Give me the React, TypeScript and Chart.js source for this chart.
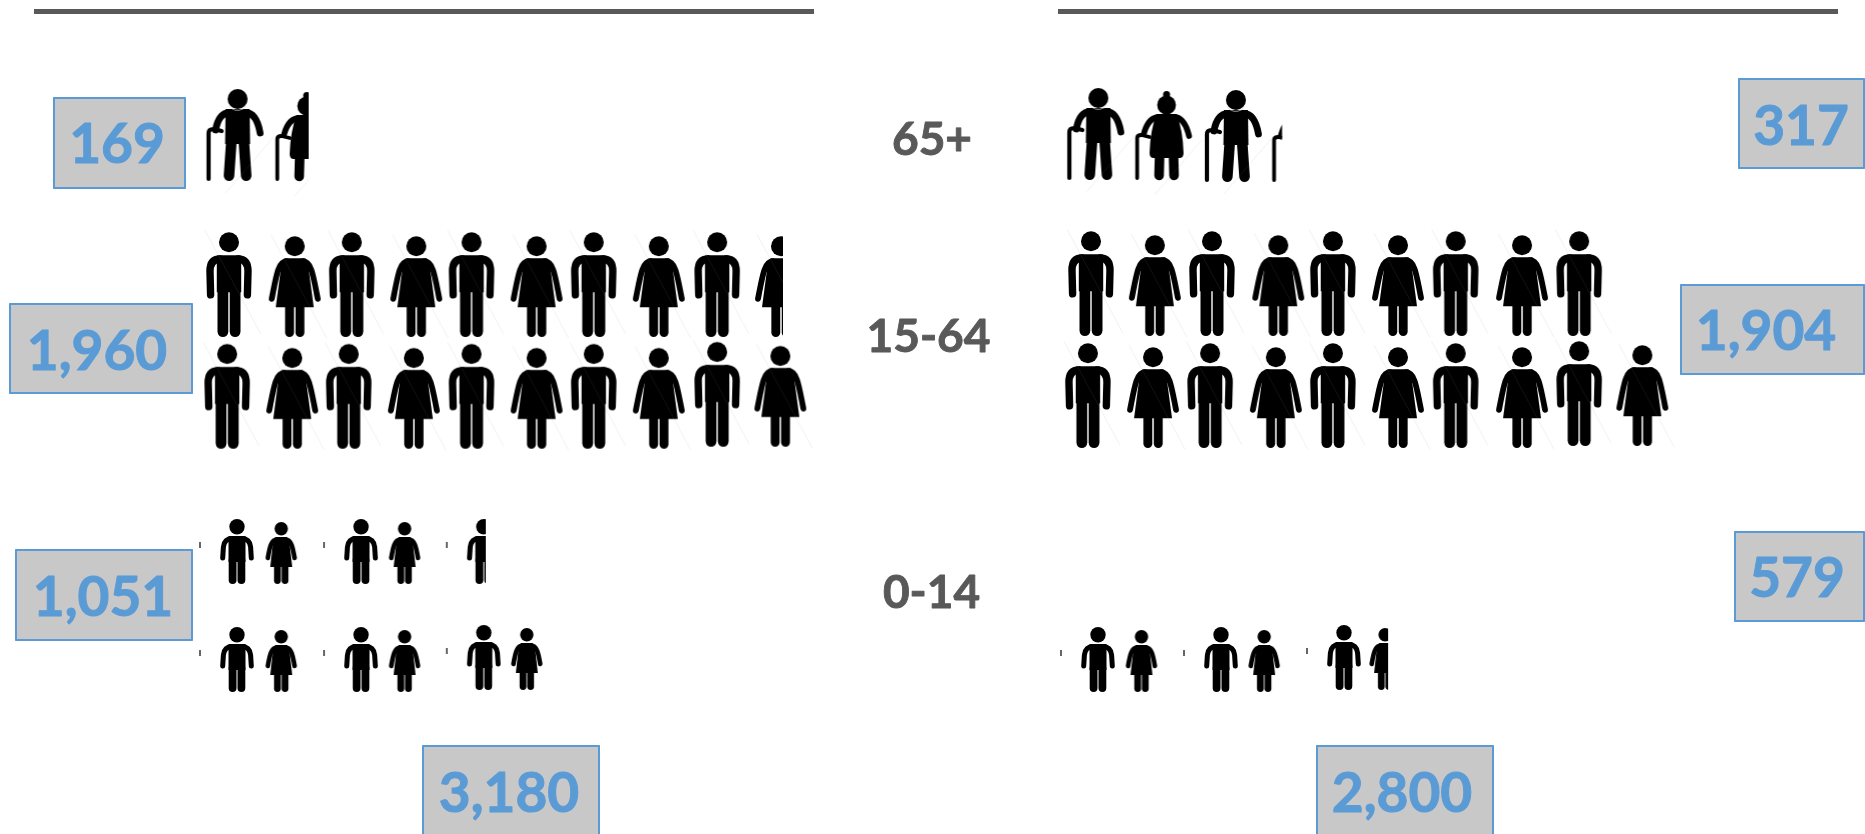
import React, { useEffect, useRef } from "react";
import { Chart, registerables } from "chart.js";

Chart.register(...registerables);

const WIDTH = 1865;
const HEIGHT = 834;

// ---- values ----
const ageGroups = ["65+", "15-64", "0-14"];
const leftValues = [169, 1960, 1051];
const leftTotal = 3180;
const rightValues = [317, 1904, 579];
const rightTotal = 2800;

// ---- pictogram rows: slot along the row (one slot = one icon), feet level on the y axis ----
const elderLeftKinds = ["E", "W"];
const elderLeftSlots = [0.14, 1.265];
const elderLeftFeet = [1.81, 1.81];
const elderLeftShown = [1, 0.58];

const elderRightKinds = ["E", "W", "E", "W"];
const elderRightSlots = [0.12, 1.23, 2.36, 3.46];
const elderRightFeet = [1.8, 1.8, 1.82, 1.82];
const elderRightShown = [1, 1, 1, 0.156];

const adultLeftKinds1 = ["M", "F", "M", "F", "M", "F", "M", "F", "M", "F"];
const adultLeftSlots1 = [0, 1.07, 2.0, 3.05, 3.95, 5.01, 5.94, 7.0, 7.95, 8.99];
const adultLeftFeet1 = [3.37, 3.37, 3.37, 3.37, 3.37, 3.37, 3.37, 3.37, 3.37, 3.37];
const adultLeftShown1 = [1, 1, 1, 1, 1, 1, 1, 1, 1, 0.54];

const adultLeftKinds2 = ["M", "F", "M", "F", "M", "F", "M", "F", "M", "F"];
const adultLeftSlots2 = [-0.03, 1.03, 1.95, 3.01, 3.95, 5.01, 5.94, 7.0, 7.95, 8.98];
const adultLeftFeet2 = [4.487, 4.487, 4.487, 4.487, 4.487, 4.487, 4.487, 4.487, 4.467, 4.467];
const adultLeftShown2 = [1, 1, 1, 1, 1, 1, 1, 1, 1, 1];

const adultRightKinds1 = ["M", "F", "M", "F", "M", "F", "M", "F", "M"];
const adultRightSlots1 = [0, 1.04, 1.97, 3.05, 3.94, 5.0, 5.94, 7.02, 7.95];
const adultRightFeet1 = [3.36, 3.36, 3.36, 3.36, 3.36, 3.36, 3.36, 3.36, 3.36];
const adultRightShown1 = [1, 1, 1, 1, 1, 1, 1, 1, 1];

const adultRightKinds2 = ["M", "F", "M", "F", "M", "F", "M", "F", "M", "F"];
const adultRightSlots2 = [-0.05, 1.01, 1.94, 3.01, 3.94, 5.0, 5.94, 7.02, 7.95, 8.98];
const adultRightFeet2 = [4.48, 4.48, 4.48, 4.48, 4.48, 4.48, 4.48, 4.48, 4.46, 4.46];
const adultRightShown2 = [1, 1, 1, 1, 1, 1, 1, 1, 1, 1];

const childLeftKinds1 = ["B", "G", "B", "G", "B"];
const childLeftSlots1 = [0.13, 0.85, 2.15, 2.86, 4.15];
const childLeftFeet1 = [5.84, 5.84, 5.84, 5.84, 5.84];
const childLeftShown1 = [1, 1, 1, 1, 0.56];

const childLeftKinds2 = ["B", "G", "B", "G", "B", "G"];
const childLeftSlots2 = [0.13, 0.85, 2.15, 2.86, 4.15, 4.85];
const childLeftFeet2 = [6.92, 6.92, 6.92, 6.92, 6.9, 6.9];
const childLeftShown2 = [1, 1, 1, 1, 1, 1];

const childRightKinds = ["B", "G", "B", "G", "B", "G"];
const childRightSlots = [0.114, 0.822, 2.117, 2.82, 4.12, 4.79];
const childRightFeet = [6.92, 6.92, 6.92, 6.92, 6.9, 6.9];
const childRightShown = [1, 1, 1, 1, 1, 0.59];

// ---- page layout (not data) ----
const SLOT_PX = 61.4;
const LEFT_ORIGIN = 229;
const RIGHT_ORIGIN = 1091;
const ROW_PX = 100;
const BLUE = "#5B9BD5";
const GREY_TEXT = "#595959";
const BOX_FILL = "#C8C8C8";
const VALUE_FONT = 'bold 55px Lato, "Open Sans", sans-serif';
const AGE_FONT = 'bold 46px Lato, "Open Sans", sans-serif';

type Box = { text: string; l: number; t: number; r: number; b: number; cx: number; base: number };
const fmt = (n: number) => n.toLocaleString("en-US");
const boxes: Box[] = [
  { text: fmt(leftValues[0]), l: 53, t: 97, r: 186, b: 189, cx: 117, base: 163 },
  { text: fmt(leftValues[1]), l: 9, t: 303, r: 193, b: 394, cx: 97, base: 370 },
  { text: fmt(leftValues[2]), l: 15, t: 549, r: 193, b: 641, cx: 103, base: 616 },
  { text: fmt(leftTotal), l: 422, t: 745, r: 600, b: 860, cx: 509, base: 812 },
  { text: fmt(rightValues[0]), l: 1738, t: 78, r: 1865, b: 169, cx: 1801, base: 145 },
  { text: fmt(rightValues[1]), l: 1680, t: 284, r: 1865, b: 375, cx: 1766, base: 350 },
  { text: fmt(rightValues[2]), l: 1734, t: 531, r: 1865, b: 622, cx: 1797, base: 597 },
  { text: fmt(rightTotal), l: 1316, t: 745, r: 1494, b: 860, cx: 1402, base: 812 },
];
const agePlacement = [
  { cx: 932, base: 154.5 },
  { cx: 928.5, base: 352 },
  { cx: 931.5, base: 608 },
];
const topRules = [
  { l: 34, r: 814 },
  { l: 1058, r: 1838 },
];

// ---- icons: every canvas has head centre-line and feet at its middle ----
const HEIGHTS: Record<string, number> = { M: 104.7, F: 100.7, E: 92, W: 89, B: 65, G: 62 };
const BBOX: Record<string, [number, number]> = {
  M: [-23, 23],
  F: [-26, 26],
  E: [-30, 25],
  W: [-30, 25],
  B: [-17, 17],
  G: [-16, 16],
};

function both(c: CanvasRenderingContext2D, fn: (s: number) => void) {
  fn(-1);
  fn(1);
}
function dot(c: CanvasRenderingContext2D, x: number, y: number, r: number) {
  c.beginPath();
  c.arc(x, y, r, 0, Math.PI * 2);
  c.fill();
}
function seg(c: CanvasRenderingContext2D, w: number, pts: number[]) {
  c.lineWidth = w;
  c.beginPath();
  c.moveTo(pts[0], pts[1]);
  c.lineTo(pts[2], pts[3]);
  c.stroke();
}
function poly(c: CanvasRenderingContext2D, pts: number[]) {
  c.beginPath();
  c.moveTo(pts[0], pts[1]);
  for (let i = 2; i < pts.length; i += 2) c.lineTo(pts[i], pts[i + 1]);
  c.closePath();
  c.fill();
}

function drawFigure(c: CanvasRenderingContext2D, kind: string) {
  if (kind === "M") {
    dot(c, 0, 10, 10);
    poly(c, [-11.5, 23, 11.5, 23, 12.2, 30, 12.2, 60, -12.2, 60, -12.2, 30]);
    both(c, (s) => {
      c.lineWidth = 7.4;
      c.beginPath();
      c.moveTo(s * 9, 26.7);
      c.bezierCurveTo(s * 15, 26.7, s * 19, 30, s * 19, 39);
      c.lineTo(s * 18.4, 62.5);
      c.stroke();
      seg(c, 10.8, [s * 6.1, 58, s * 6.1, 99.3]);
    });
  } else if (kind === "F") {
    dot(c, 0, 10, 10);
    poly(c, [-10.5, 22, 10.5, 22, 13.5, 30, 19, 71, -19, 71, -13.5, 30]);
    both(c, (s) => {
      c.lineWidth = 5.8;
      c.beginPath();
      c.moveTo(s * 8, 24.9);
      c.bezierCurveTo(s * 16, 24.9, s * 18, 36, s * 23, 62.5);
      c.stroke();
      seg(c, 8.9, [s * 5.2, 70, s * 5.2, 96.2]);
    });
  } else if (kind === "E") {
    dot(c, 0, 10, 10);
    poly(c, [-12, 20, 12, 20, 12.5, 55, -12.5, 55]);
    // legs splay slightly toward the feet
    seg(c, 10.6, [-6.2, 52, -8.6, 86.7]);
    seg(c, 10.6, [6.2, 52, 8.6, 86.7]);
    // arms: the left one ends on the cane
    c.lineWidth = 6.8;
    c.beginPath();
    c.moveTo(-8, 23.5);
    c.quadraticCurveTo(-19, 24, -22, 41);
    c.stroke();
    c.beginPath();
    c.moveTo(8, 23.5);
    c.quadraticCurveTo(19, 24, 22.5, 44);
    c.stroke();
    // cane
    c.lineWidth = 4.2;
    c.beginPath();
    c.moveTo(-29, 90);
    c.lineTo(-29, 44);
    c.quadraticCurveTo(-29, 40, -24, 40);
    c.lineTo(-16, 42);
    c.stroke();
    c.strokeStyle = "rgba(215,215,215,0.9)";
    c.lineWidth = 0.8;
    c.beginPath();
    c.arc(0, 11, 10.5, 0.2 * Math.PI, 0.8 * Math.PI);
    c.stroke();
    c.strokeStyle = "#000";
  } else if (kind === "W") {
    dot(c, 0, 3.5, 3.5);
    dot(c, 0, 14, 9.4);
    c.beginPath();
    c.moveTo(-10, 23);
    c.lineTo(10, 23);
    c.quadraticCurveTo(16.5, 40, 17, 62);
    c.quadraticCurveTo(17, 67, 13, 67);
    c.lineTo(-13, 67);
    c.quadraticCurveTo(-17, 67, -17, 62);
    c.quadraticCurveTo(-16.5, 40, -10, 23);
    c.fill();
    seg(c, 9.6, [-7, 66, -7.5, 84.5]);
    seg(c, 9.6, [7, 66, 7.5, 84.5]);
    c.lineWidth = 5.8;
    c.beginPath();
    c.moveTo(-7, 26);
    c.quadraticCurveTo(-18, 26, -22.5, 42);
    c.stroke();
    c.beginPath();
    c.moveTo(7, 26);
    c.quadraticCurveTo(18, 26, 22.5, 45);
    c.stroke();
    c.lineWidth = 3.8;
    c.beginPath();
    c.moveTo(-29.4, 87);
    c.lineTo(-29.4, 47);
    c.quadraticCurveTo(-29.4, 44, -25, 44);
    c.lineTo(-17, 46);
    c.stroke();
  } else if (kind === "B") {
    dot(c, 0, 7.7, 7.7);
    poly(c, [-8.5, 17, 8.5, 17, 8.5, 43, -8.5, 43]);
    both(c, (s) => {
      c.lineWidth = 5;
      c.beginPath();
      c.moveTo(s * 5, 19.6);
      c.quadraticCurveTo(s * 12.5, 19.6, s * 13.6, 28);
      c.lineTo(s * 14.3, 39);
      c.stroke();
      seg(c, 7.8, [s * 4.4, 41, s * 4.4, 61]);
    });
    c.lineCap = "butt";
    seg(c, 1.2, [-37, 23, -37, 29]);
    c.lineCap = "round";
  } else {
    dot(c, 0, 6.7, 6.7);
    poly(c, [-6, 15, 6, 15, 8.6, 24, 11, 45, -11, 45, -8.6, 24]);
    both(c, (s) => {
      c.lineWidth = 4.6;
      c.beginPath();
      c.moveTo(s * 4, 17.6);
      c.bezierCurveTo(s * 10, 17.6, s * 11.5, 25, s * 13.4, 36);
      c.stroke();
      seg(c, 6.8, [s * 3.8, 44, s * 3.8, 58.6]);
    });
  }
}

function makeIcon(kind: string, shown: number) {
  const canvas = document.createElement("canvas");
  canvas.width = 130;
  canvas.height = 240;
  const c = canvas.getContext("2d") as CanvasRenderingContext2D;
  c.translate(65, 120);
  const [lo, hi] = BBOX[kind];
  if (shown < 1) {
    c.beginPath();
    c.rect(-65, -120, 65 + lo + shown * (hi - lo), 240);
    c.clip();
  }
  c.translate(0, -HEIGHTS[kind]);
  c.fillStyle = "#000";
  c.strokeStyle = "#000";
  c.lineCap = "round";
  c.lineJoin = "round";
  (c as any).filter = "blur(0.45px)";
  drawFigure(c, kind);
  // faint stock-image watermark stroke
  c.lineCap = "butt";
  c.lineWidth = 1;
  c.strokeStyle = "rgba(150,150,150,0.13)";
  c.beginPath();
  if (kind === "M" || kind === "F") {
    c.moveTo(-24, -2);
    c.lineTo(32, 102);
  } else if (kind === "E" || kind === "W") {
    c.moveTo(-12, 104);
    c.lineTo(36, 48);
  }
  c.stroke();
  return canvas;
}

const iconCache = new Map<string, HTMLCanvasElement>();
function icon(kind: string, shown: number) {
  const key = kind + shown;
  if (!iconCache.has(key)) iconCache.set(key, makeIcon(kind, shown));
  return iconCache.get(key) as HTMLCanvasElement;
}

function row(axis: string, kinds: string[], slots: number[], feet: number[], shown: number[]) {
  return {
    xAxisID: axis,
    yAxisID: "y",
    showLine: false,
    clip: false as const,
    data: slots.map((x, i) => ({ x, y: feet[i] })),
    pointStyle: kinds.map((k, i) => icon(k, shown[i])),
    pointRadius: 6,
    pointHoverRadius: 6,
  };
}

const annotations = {
  id: "annotations",
  afterDatasetsDraw(chart: any) {
    const c: CanvasRenderingContext2D = chart.ctx;
    c.save();
    c.fillStyle = GREY_TEXT;
    topRules.forEach((r) => c.fillRect(r.l, 9, r.r - r.l, 5));
    c.textAlign = "center";
    c.textBaseline = "alphabetic";
    c.lineJoin = "round";
    c.font = AGE_FONT;
    c.strokeStyle = GREY_TEXT;
    c.lineWidth = 0.9;
    ageGroups.forEach((g, i) => {
      c.fillText(g, agePlacement[i].cx, agePlacement[i].base);
      c.strokeText(g, agePlacement[i].cx, agePlacement[i].base);
    });
    boxes.forEach((b) => {
      c.fillStyle = BOX_FILL;
      c.fillRect(b.l, b.t, b.r - b.l, b.b - b.t);
      c.strokeStyle = BLUE;
      c.lineWidth = 2;
      c.strokeRect(b.l + 1, b.t + 1, b.r - b.l - 2, b.b - b.t - 2);
      c.fillStyle = BLUE;
      c.font = VALUE_FONT;
      c.lineWidth = 1;
      c.fillText(b.text, b.cx, b.base);
      c.strokeText(b.text, b.cx, b.base);
    });
    c.restore();
  },
};

export default function App() {
  const ref = useRef<HTMLCanvasElement>(null);
  useEffect(() => {
    if (!ref.current) return;
    const chart = new Chart(ref.current, {
      type: "scatter",
      data: {
        datasets: [
          row("xLeft", elderLeftKinds, elderLeftSlots, elderLeftFeet, elderLeftShown),
          row("xLeft", adultLeftKinds1, adultLeftSlots1, adultLeftFeet1, adultLeftShown1),
          row("xLeft", adultLeftKinds2, adultLeftSlots2, adultLeftFeet2, adultLeftShown2),
          row("xLeft", childLeftKinds1, childLeftSlots1, childLeftFeet1, childLeftShown1),
          row("xLeft", childLeftKinds2, childLeftSlots2, childLeftFeet2, childLeftShown2),
          row("xRight", elderRightKinds, elderRightSlots, elderRightFeet, elderRightShown),
          row("xRight", adultRightKinds1, adultRightSlots1, adultRightFeet1, adultRightShown1),
          row("xRight", adultRightKinds2, adultRightSlots2, adultRightFeet2, adultRightShown2),
          row("xRight", childRightKinds, childRightSlots, childRightFeet, childRightShown),
        ] as any,
      },
      options: {
        animation: false,
        responsive: false,
        devicePixelRatio: 1,
        events: [],
        layout: { padding: 0, autoPadding: false },
        plugins: { legend: { display: false }, tooltip: { enabled: false } },
        scales: {
          xLeft: {
            type: "linear",
            display: false,
            bounds: "data",
            min: -LEFT_ORIGIN / SLOT_PX,
            max: (WIDTH - LEFT_ORIGIN) / SLOT_PX,
          },
          xRight: {
            type: "linear",
            display: false,
            bounds: "data",
            min: -RIGHT_ORIGIN / SLOT_PX,
            max: (WIDTH - RIGHT_ORIGIN) / SLOT_PX,
          },
          y: { type: "linear", display: false, bounds: "data", reverse: true, min: 0, max: HEIGHT / ROW_PX },
        },
      },
      plugins: [annotations],
    } as any);
    return () => chart.destroy();
  }, []);
  return (
    <canvas
      ref={ref}
      width={WIDTH}
      height={HEIGHT}
      style={{ position: "fixed", left: 0, top: 0, width: WIDTH, height: HEIGHT, background: "#fff" }}
    />
  );
}
